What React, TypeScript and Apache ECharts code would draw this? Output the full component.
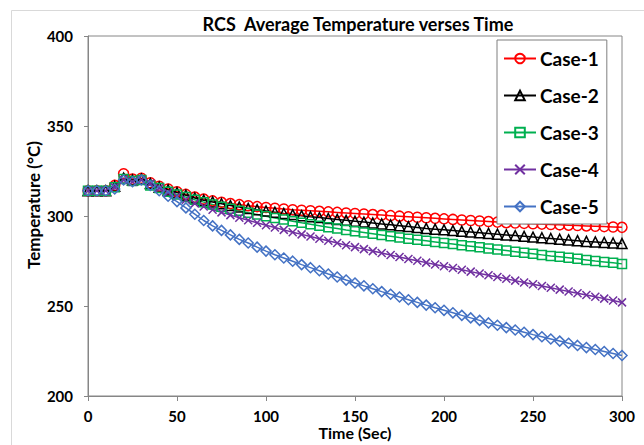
import React, { useEffect, useRef } from "react";
import * as echarts from "echarts";

const times = [0, 5, 10, 15, 20, 25, 30, 35, 40, 45, 50, 55, 60, 65, 70, 75, 80, 85, 90, 95, 100, 105, 110, 115, 120, 125, 130, 135, 140, 145, 150, 155, 160, 165, 170, 175, 180, 185, 190, 195, 200, 205, 210, 215, 220, 225, 230, 235, 240, 245, 250, 255, 260, 265, 270, 275, 280, 285, 290, 295, 300];

const case1 = [314, 314, 314, 317, 323.5, 320.5, 321, 318.5, 316.5, 315, 313.5, 312, 310.5, 309.4, 308.4, 307.6, 306.9, 306.3, 305.7, 305.2, 304.7, 304.3, 303.9, 303.5, 303.2, 302.9, 302.6, 302.3, 302, 301.7, 301.4, 301.1, 300.8, 300.5, 300.2, 299.9, 299.6, 299.3, 299, 298.7, 298.4, 298.1, 297.8, 297.5, 297.2, 296.9, 296.6, 296.3, 296.1, 295.9, 295.7, 295.5, 295.3, 295.1, 294.9, 294.7, 294.5, 294.3, 294.1, 293.9, 293.7];

const case2 = [314, 314, 314, 316.5, 321, 320, 320.5, 318, 316, 314.5, 313, 311.5, 310, 308.8, 307.8, 306.8, 305.8, 305, 304.2, 303.5, 302.8, 302.1, 301.4, 300.8, 300.2, 299.6, 299.1, 298.6, 298.1, 297.6, 297.1, 296.6, 296.1, 295.6, 295.1, 294.6, 294.1, 293.6, 293.1, 292.7, 292.3, 291.9, 291.5, 291.1, 290.7, 290.3, 289.9, 289.5, 289.1, 288.7, 288.3, 287.9, 287.5, 287.1, 286.7, 286.3, 285.9, 285.6, 285.3, 285, 284.7];

const case3 = [314, 314, 314, 316, 320.5, 319.5, 320, 317, 315.5, 313.5, 312, 310.5, 309, 307.7, 306.4, 305.2, 304, 302.9, 301.8, 300.8, 299.8, 298.9, 298, 297.1, 296.2, 295.4, 294.6, 293.8, 293, 292.2, 291.5, 290.8, 290.1, 289.4, 288.7, 288, 287.4, 286.8, 286.2, 285.6, 285, 284.4, 283.8, 283.2, 282.6, 282, 281.4, 280.8, 280.2, 279.6, 279, 278.4, 277.8, 277.3, 276.8, 276.2, 275.6, 275, 274.5, 274, 273.4];

const case4 = [314, 314, 314, 316, 320, 319, 320, 318, 315.5, 313, 311, 309, 307, 305.3, 303.5, 302, 300.5, 299, 297.6, 296.2, 294.9, 293.6, 292.3, 291, 289.8, 288.6, 287.4, 286.2, 285, 283.8, 282.7, 281.6, 280.5, 279.4, 278.3, 277.2, 276.1, 275.1, 274.1, 273.1, 272.1, 271.1, 270.1, 269.1, 268.1, 267.1, 266.1, 265.1, 264.1, 263.1, 262.1, 261.1, 260.1, 259.1, 258.1, 257.1, 256.1, 255.1, 254.1, 253.1, 252];

const case5 = [314, 314, 314, 315, 320, 319, 320, 317, 314, 311, 308, 304.5, 301, 297.5, 294.5, 292, 289.5, 287, 285, 282.7, 280.5, 278.5, 276.7, 274.9, 273, 271.3, 269.6, 267.8, 266.1, 264.4, 262.8, 261.2, 259.6, 258, 256.5, 255, 253.5, 252, 250.5, 249, 247.6, 246.2, 244.8, 243.4, 242, 240.6, 239.3, 238, 236.7, 235.4, 234.1, 232.9, 231.7, 230.5, 229.3, 228.1, 226.9, 225.8, 224.7, 223.6, 222.5];

const seriesNames = ["Case-1", "Case-2", "Case-3", "Case-4", "Case-5"];
const seriesValues = [case1, case2, case3, case4, case5];
const seriesColors = ["#FF0000", "#000000", "#00B050", "#7030A0", "#4472C4"];
const seriesSymbols = ["circle", "triangle", "rect", "path://M0,0L10,10M10,0L0,10", "diamond"];
const seriesSymbolSizes = [10, 10, 9, 8, 10];

const FONT = "Lato, 'Open Sans', sans-serif";

export default function App() {
  const ref = useRef<HTMLDivElement>(null);
  useEffect(() => {
    if (!ref.current) return;
    const chart = echarts.init(ref.current, null, { renderer: "svg" });
    const series = seriesNames.map((name, i) => ({
      name,
      type: "line",
      data: times.map((t, j) => [t, seriesValues[i][j]]),
      symbol: seriesSymbols[i],
      symbolSize: seriesSymbolSizes[i],
      showAllSymbol: true,
      lineStyle: { color: seriesColors[i], width: 1.5 },
      itemStyle: { color: "rgba(255,255,255,0)", borderColor: seriesColors[i], borderWidth: 1.5 },
      emphasis: { disabled: true },
    }));
    chart.setOption({
      animation: false,
      textStyle: { fontFamily: FONT },
      title: {
        text: "RCS  Average Temperature verses Time",
        left: 353,
        top: 10,
        textAlign: "center",
        textStyle: { fontSize: 18, fontWeight: "bold", color: "#000", fontFamily: FONT },
      },
      graphic: [
        {
          type: "rect",
          shape: { x: 11.5, y: 10.5, width: 700, height: 500 },
          style: { fill: "none", stroke: "#D9D9D9", lineWidth: 1 },
          z: -10,
        },
        {
          type: "text",
          x: 33,
          y: 205,
          rotation: Math.PI / 2,
          style: {
            text: "Temperature (°C)",
            align: "center",
            verticalAlign: "middle",
            fontSize: 17,
            fontWeight: "bold",
            fill: "#000",
            fontFamily: FONT,
          },
        },
      ],
      legend: {
        orient: "vertical",
        left: 497,
        top: 40,
        itemWidth: 32,
        itemHeight: 12,
        itemGap: 18,
        padding: [9, 8, 8, 6],
        borderColor: "#7F7F7F",
        borderWidth: 1,
        backgroundColor: "#fff",
        textStyle: { fontSize: 19, lineHeight: 18, fontWeight: "bold", color: "#000", fontFamily: FONT, padding: [0, 0, 0, -1] },
        data: seriesNames,
      },
      grid: {
        left: 88,
        right: 22,
        top: 36,
        bottom: 42,
        show: true,
        borderColor: "#868686",
        borderWidth: 1,
        containLabel: false,
      },
      xAxis: {
        type: "value",
        min: 0,
        max: 300,
        interval: 50,
        name: "Time (Sec)",
        nameLocation: "middle",
        nameGap: 28,
        nameMoveOverlap: false,
        nameTextStyle: { fontSize: 16, fontWeight: "bold", color: "#000", fontFamily: FONT },
        axisLine: { show: true, lineStyle: { color: "#868686" } },
        axisTick: { show: true, length: 5, lineStyle: { color: "#868686" } },
        splitLine: { show: false },
        axisLabel: { fontSize: 15, fontWeight: "bold", color: "#000", margin: 12, fontFamily: FONT },
      },
      yAxis: {
        type: "value",
        min: 200,
        max: 400,
        interval: 50,
        axisLine: { show: true, lineStyle: { color: "#868686" } },
        axisTick: { show: true, length: 4, lineStyle: { color: "#868686" } },
        splitLine: { show: false },
        axisLabel: { fontSize: 15, fontWeight: "bold", color: "#000", margin: 15, fontFamily: FONT },
      },
      series,
    });
    return () => chart.dispose();
  }, []);
  return (
    <div
      ref={ref}
      style={{ position: "fixed", left: 0, top: 0, width: 644, height: 445, background: "#fff" }}
    />
  );
}
